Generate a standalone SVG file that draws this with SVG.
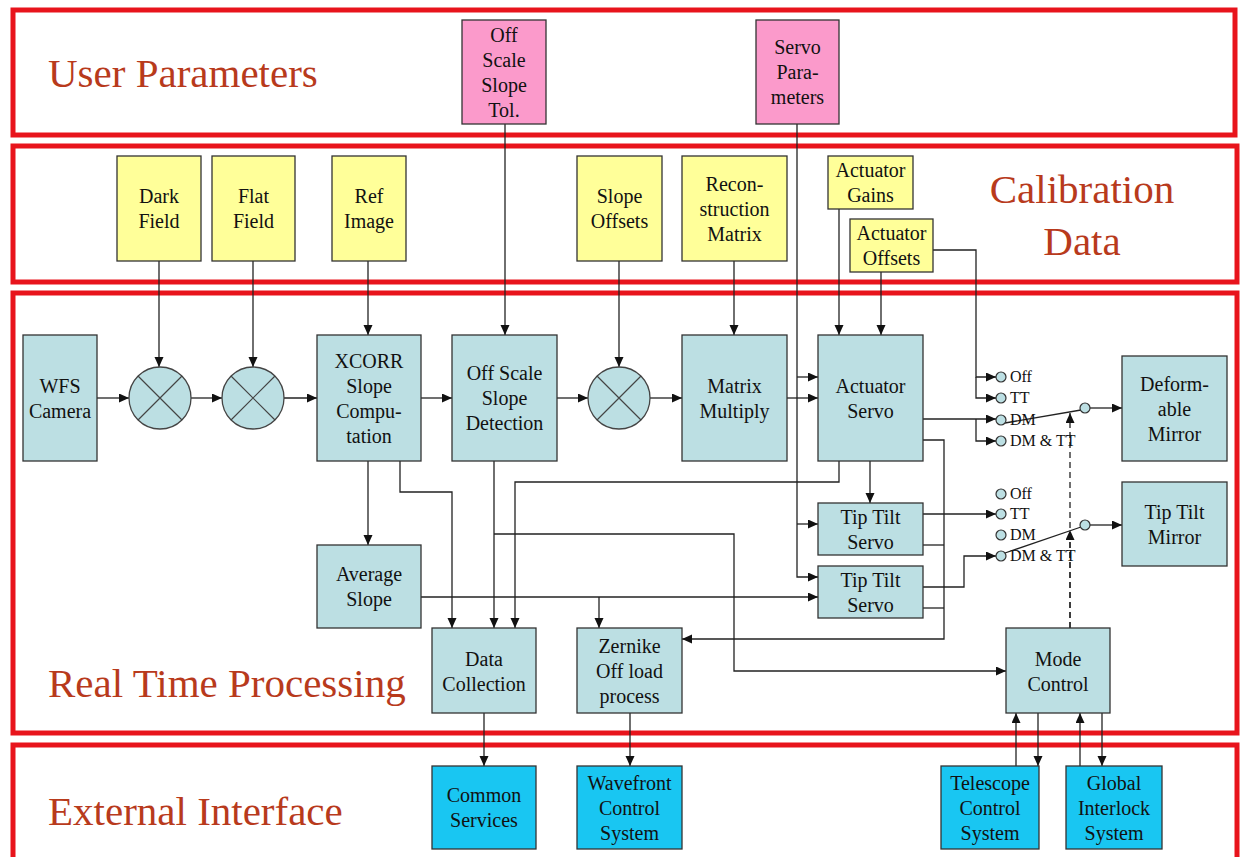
<svg xmlns="http://www.w3.org/2000/svg" width="1243" height="857" viewBox="0 0 1243 857">
<defs>
<marker id="ah" markerUnits="userSpaceOnUse" markerWidth="11" markerHeight="10" refX="10" refY="4.5" orient="auto"><path d="M0,0 L10,4.5 L0,9 z" fill="#111"/></marker>
<style>
.frame{fill:none;stroke:#e8141c;stroke-width:5}
.sec{font-family:"Liberation Serif","Times New Roman",serif;font-size:41px;fill:#b83a1c}
.n rect{stroke:#333;stroke-width:1.3}
.t{fill:#bcdfe3}.y{fill:#ffff99}.p{fill:#fb9acb}.b{fill:#19c6f2}
.n text{font-family:"Liberation Serif","Times New Roman",serif;font-size:20px;fill:#111;text-anchor:middle}
.c path{fill:none;stroke:#222;stroke-width:1.3}
.a{marker-end:url(#ah)}
.d{stroke-dasharray:6,4}
.sw circle{fill:#bcdfe3;stroke:#333;stroke-width:1.2}
.sw text{font-family:"Liberation Serif","Times New Roman",serif;font-size:16px;fill:#111}
.mul circle{fill:#bcdfe3;stroke:#444;stroke-width:1.3}
.mul path{stroke:#444;stroke-width:1.2;fill:none}
</style>
</defs>
<rect width="1243" height="857" fill="#fff"/>
<g id="frames">
<rect class="frame" x="13" y="10" width="1222" height="125"/>
<rect class="frame" x="13" y="146" width="1224" height="136"/>
<rect class="frame" x="13" y="293" width="1224" height="440"/>
<rect class="frame" x="13" y="745" width="1224" height="116"/>
<text class="sec" x="48" y="87">User Parameters</text>
<text class="sec" x="1082" y="203" text-anchor="middle">Calibration</text>
<text class="sec" x="1082" y="255" text-anchor="middle">Data</text>
<text class="sec" x="48" y="697">Real Time Processing</text>
<text class="sec" x="48" y="825">External Interface</text>
</g>
<g class="c" id="connectors">
<path class="a" d="M159,261 V367"/>
<path class="a" d="M253,261 V367"/>
<path class="a" d="M368,261 V335"/>
<path class="a" d="M505,124 V335"/>
<path class="a" d="M619,261 V367"/>
<path class="a" d="M734,261 V335"/>
<path class="a" d="M797,124 V577 H818"/>
<path class="a" d="M797,377 H818"/>
<path class="a" d="M797,524 H818"/>
<path class="a" d="M97,398 H129"/>
<path class="a" d="M191,398 H222"/>
<path class="a" d="M284,398 H317"/>
<path class="a" d="M421,398 H452"/>
<path class="a" d="M557,398 H588"/>
<path class="a" d="M650,398 H682"/>
<path class="a" d="M787,398 H818"/>
<path class="a" d="M839,209 V335"/>
<path class="a" d="M881,272 V335"/>
<path class="a" d="M933,250 H976 V377 H996"/>
<path class="a" d="M976,377 V398 H996"/>
<path class="a" d="M923,419 H996"/>
<path class="a" d="M976,419 V441 H996"/>
<path class="a" d="M923,440 H944 V639 H682"/>
<path d="M923,545 H944"/>
<path d="M923,608 H944"/>
<path class="a" d="M839,461 V482 H515 V628"/>
<path class="a" d="M870,461 V503"/>
<path class="a" d="M923,514 H996"/>
<path class="a" d="M923,587 H964 V556 H996"/>
<path class="a" d="M368,461 V545"/>
<path class="a" d="M400,461 V492 H452 V628"/>
<path class="a" d="M494,461 V628"/>
<path class="a" d="M494,534 H734 V671 H1006"/>
<path class="a" d="M421,597 H818"/>
<path class="a" d="M599,597 V628"/>
<path class="a" d="M484,713 V766"/>
<path class="a" d="M630,713 V766"/>
<path class="a" d="M1016,766 V713"/>
<path class="a" d="M1038,713 V766"/>
<path class="a" d="M1080,766 V713"/>
<path class="a" d="M1102,713 V766"/>
<path class="a d" d="M1070,628 V413"/>
<path class="a d" d="M1070,628 V530"/>
<path class="a" d="M1090,408 H1122"/>
<path class="a" d="M1090,525 H1122"/>
<path d="M1005,423 L1081,410"/>
<path d="M1005,553 L1081,527"/>
</g>
<g class="sw" id="switch-dm">
<circle cx="1001" cy="377" r="5"/><circle cx="1001" cy="398" r="5"/><circle cx="1001" cy="420" r="5"/><circle cx="1001" cy="441" r="5"/>
<circle cx="1085" cy="408" r="5"/>
<text x="1010" y="382">Off</text><text x="1010" y="403">TT</text><text x="1010" y="425">DM</text><text x="1010" y="446">DM &amp; TT</text>
</g>
<g class="sw" id="switch-tt">
<circle cx="1001" cy="494" r="5"/><circle cx="1001" cy="514" r="5"/><circle cx="1001" cy="535" r="5"/><circle cx="1001" cy="556" r="5"/>
<circle cx="1085" cy="525" r="5"/>
<text x="1010" y="499">Off</text><text x="1010" y="519">TT</text><text x="1010" y="540">DM</text><text x="1010" y="561">DM &amp; TT</text>
</g>
<g class="mul" id="mult1"><circle cx="160" cy="398" r="31"/><path d="M138,376 L182,420 M182,376 L138,420"/></g>
<g class="mul" id="mult2"><circle cx="253" cy="398" r="31"/><path d="M231,376 L275,420 M275,376 L231,420"/></g>
<g class="mul" id="mult3"><circle cx="619" cy="398" r="31"/><path d="M597,376 L641,420 M641,376 L597,420"/></g>
<g class="n" id="off-scale-tol"><rect class="p" x="462" y="20" width="84" height="104"/><text x="504" y="41.5">Off</text><text x="504" y="66.5">Scale</text><text x="504" y="91.5">Slope</text><text x="504" y="116.5">Tol.</text></g>
<g class="n" id="servo-params"><rect class="p" x="756" y="20" width="83" height="104"/><text x="797.5" y="54">Servo</text><text x="797.5" y="79">Para-</text><text x="797.5" y="104">meters</text></g>
<g class="n" id="dark-field"><rect class="y" x="117" y="156" width="84" height="105"/><text x="159" y="203">Dark</text><text x="159" y="228">Field</text></g>
<g class="n" id="flat-field"><rect class="y" x="212" y="156" width="83" height="105"/><text x="253.5" y="203">Flat</text><text x="253.5" y="228">Field</text></g>
<g class="n" id="ref-image"><rect class="y" x="332" y="156" width="74" height="105"/><text x="369" y="203">Ref</text><text x="369" y="228">Image</text></g>
<g class="n" id="slope-offsets"><rect class="y" x="577" y="156" width="85" height="105"/><text x="619.5" y="203">Slope</text><text x="619.5" y="228">Offsets</text></g>
<g class="n" id="recon-matrix"><rect class="y" x="682" y="156" width="105" height="105"/><text x="734.5" y="190.5">Recon-</text><text x="734.5" y="215.5">struction</text><text x="734.5" y="240.5">Matrix</text></g>
<g class="n" id="actuator-gains"><rect class="y" x="828" y="156" width="85" height="53"/><text x="870.5" y="177">Actuator</text><text x="870.5" y="202">Gains</text></g>
<g class="n" id="actuator-offsets"><rect class="y" x="850" y="219" width="83" height="53"/><text x="891.5" y="240">Actuator</text><text x="891.5" y="265">Offsets</text></g>
<g class="n" id="wfs-camera"><rect class="t" x="23" y="335" width="74" height="126"/><text x="60" y="392.5">WFS</text><text x="60" y="417.5">Camera</text></g>
<g class="n" id="xcorr"><rect class="t" x="317" y="335" width="104" height="126"/><text x="369" y="367.5">XCORR</text><text x="369" y="392.5">Slope</text><text x="369" y="417.5">Compu-</text><text x="369" y="442.5">tation</text></g>
<g class="n" id="off-scale-detect"><rect class="t" x="452" y="335" width="105" height="126"/><text x="504.5" y="380">Off Scale</text><text x="504.5" y="405">Slope</text><text x="504.5" y="430">Detection</text></g>
<g class="n" id="matrix-multiply"><rect class="t" x="682" y="335" width="105" height="126"/><text x="734.5" y="392.5">Matrix</text><text x="734.5" y="417.5">Multiply</text></g>
<g class="n" id="actuator-servo"><rect class="t" x="818" y="335" width="105" height="126"/><text x="870.5" y="392.5">Actuator</text><text x="870.5" y="417.5">Servo</text></g>
<g class="n" id="deformable-mirror"><rect class="t" x="1122" y="356" width="105" height="105"/><text x="1174.5" y="390.5">Deform-</text><text x="1174.5" y="415.5">able</text><text x="1174.5" y="440.5">Mirror</text></g>
<g class="n" id="tip-tilt-mirror"><rect class="t" x="1122" y="482" width="105" height="84"/><text x="1174.5" y="518.5">Tip Tilt</text><text x="1174.5" y="543.5">Mirror</text></g>
<g class="n" id="tt-servo-1"><rect class="t" x="818" y="503" width="105" height="52"/><text x="870.5" y="523.5">Tip Tilt</text><text x="870.5" y="548.5">Servo</text></g>
<g class="n" id="tt-servo-2"><rect class="t" x="818" y="566" width="105" height="52"/><text x="870.5" y="586.5">Tip Tilt</text><text x="870.5" y="611.5">Servo</text></g>
<g class="n" id="average-slope"><rect class="t" x="317" y="545" width="104" height="83"/><text x="369" y="581">Average</text><text x="369" y="606">Slope</text></g>
<g class="n" id="data-collection"><rect class="t" x="432" y="628" width="104" height="85"/><text x="484" y="665.5">Data</text><text x="484" y="690.5">Collection</text></g>
<g class="n" id="zernike"><rect class="t" x="577" y="628" width="105" height="85"/><text x="629.5" y="653">Zernike</text><text x="629.5" y="678">Off load</text><text x="629.5" y="703">process</text></g>
<g class="n" id="mode-control"><rect class="t" x="1006" y="628" width="104" height="85"/><text x="1058" y="665.5">Mode</text><text x="1058" y="690.5">Control</text></g>
<g class="n" id="common-services"><rect class="b" x="432" y="766" width="104" height="83"/><text x="484" y="802">Common</text><text x="484" y="827">Services</text></g>
<g class="n" id="wavefront"><rect class="b" x="577" y="766" width="105" height="83"/><text x="629.5" y="789.5">Wavefront</text><text x="629.5" y="814.5">Control</text><text x="629.5" y="839.5">System</text></g>
<g class="n" id="telescope"><rect class="b" x="941" y="766" width="98" height="83"/><text x="990" y="789.5">Telescope</text><text x="990" y="814.5">Control</text><text x="990" y="839.5">System</text></g>
<g class="n" id="global-interlock"><rect class="b" x="1066" y="766" width="96" height="83"/><text x="1114" y="789.5">Global</text><text x="1114" y="814.5">Interlock</text><text x="1114" y="839.5">System</text></g>
</svg>
